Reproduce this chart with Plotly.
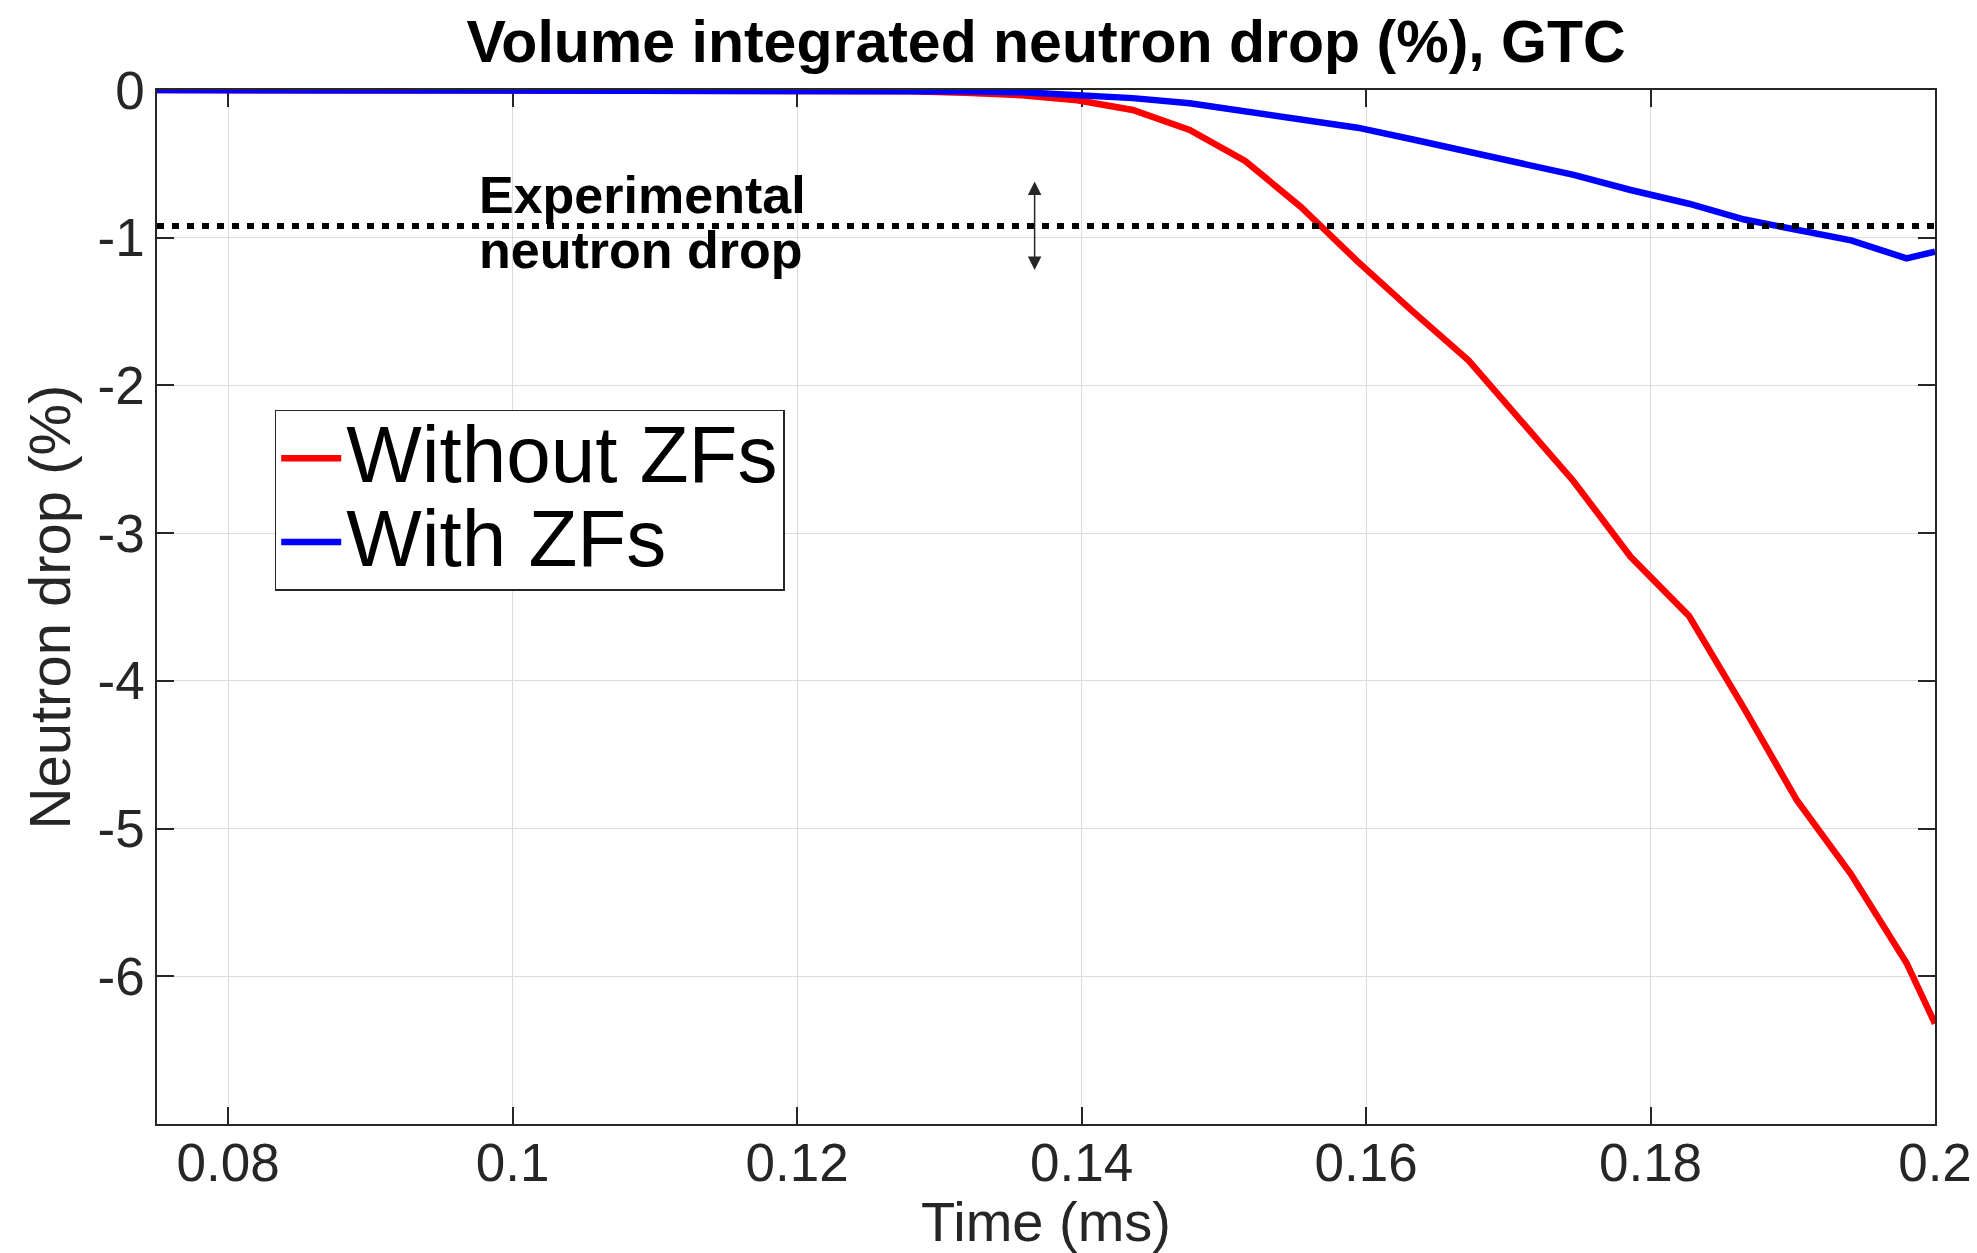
import plotly.graph_objects as go

# ---- data ----
time_ms = [0.075, 0.1, 0.12, 0.124, 0.1279, 0.1318, 0.1358, 0.1397, 0.1436, 0.1476,
           0.1515, 0.1554, 0.1594, 0.1633, 0.1672, 0.1709, 0.1746, 0.1786, 0.1827,
           0.1866, 0.1903, 0.1941, 0.1980, 0.2000]
drop_without_zf = [0, 0, 0, -0.003, -0.008, -0.018, -0.035, -0.07, -0.135, -0.27,
                   -0.48, -0.79, -1.16, -1.50, -1.83, -2.24, -2.65, -3.16, -3.56,
                   -4.19, -4.81, -5.31, -5.91, -6.32]
drop_with_zf = [0, 0, 0, -0.002, -0.004, -0.008, -0.015, -0.03, -0.055, -0.09,
                -0.143, -0.19, -0.255, -0.335, -0.418, -0.495, -0.575, -0.677, -0.77,
                -0.877, -0.95, -1.018, -1.14, -1.095]
series_names = ["Without ZFs", "With ZFs"]
exp_drop = -0.92
exp_err_range = [-0.609, -1.219]
exp_err_time = 0.1367
exp_label_lines = ["Experimental", "neutron drop"]
exp_label_pos = [(0.0975, -0.71), (0.0975, -1.08)]

x_range = [0.075, 0.2]
y_range = [-7, 0]
x_tickvals = [0.08, 0.1, 0.12, 0.14, 0.16, 0.18, 0.2]
x_ticktext = ["0.08", "0.1", "0.12", "0.14", "0.16", "0.18", "0.2"]
y_tickvals = [0, -1, -2, -3, -4, -5, -6]
y_ticktext = ["0", "-1", "-2", "-3", "-4", "-5", "-6"]

FONT = "Liberation Sans, Arial, Helvetica, sans-serif"
AX = "#262626"


def legend_label(name):
    return '<span style="font-size:80px">' + name + "</span>"


fig = go.Figure()
fig.add_trace(go.Scatter(x=time_ms, y=drop_without_zf, mode="lines",
                         name=legend_label(series_names[0]),
                         line=dict(color="#ff0000", width=6.5)))
fig.add_trace(go.Scatter(x=time_ms, y=drop_with_zf, mode="lines",
                         name=legend_label(series_names[1]),
                         line=dict(color="#0000ff", width=6.5)))
fig.add_trace(go.Scatter(x=x_range, y=[exp_drop, exp_drop], mode="lines", showlegend=False,
                         line=dict(color="black", width=6, dash="7px,8px"), hoverinfo="skip"))

axis_common = dict(showline=True, linecolor=AX, linewidth=1.5, mirror="ticks",
                   ticks="inside", ticklen=17, tickwidth=1.5, tickcolor=AX,
                   showgrid=True, gridcolor="#dcdcdc", gridwidth=1, zeroline=False,
                   automargin=False,
                   tickfont=dict(family=FONT, size=53, color=AX), layer="below traces")

fig.update_xaxes(range=x_range, tickvals=x_tickvals, ticktext=x_ticktext,
                 ticklabelstandoff=-8,
                 title=dict(text="Time (ms)", font=dict(family=FONT, size=56, color=AX), standoff=24),
                 **axis_common)
fig.update_yaxes(range=y_range, tickvals=y_tickvals, ticktext=y_ticktext,
                 title=dict(text="Neutron drop (%)", font=dict(family=FONT, size=58, color=AX), standoff=8),
                 **axis_common)

for txt, (tx, ty) in zip(exp_label_lines, exp_label_pos):
    fig.add_annotation(x=tx, y=ty, xref="x", yref="y", text=txt, showarrow=False,
                       xanchor="left", yanchor="middle",
                       font=dict(family=FONT, size=52, color="black", weight="bold"))
fig.add_annotation(x=exp_err_time, y=exp_err_range[1], ax=exp_err_time, ay=exp_err_range[0],
                   xref="x", yref="y", axref="x", ayref="y", text="", showarrow=True,
                   arrowside="end+start", arrowhead=2, arrowsize=1.8, arrowwidth=1.5,
                   arrowcolor=AX)

fig.update_layout(
    width=1977, height=1253, autosize=False,
    margin=dict(l=157, r=42, t=90, b=129, autoexpand=False),
    plot_bgcolor="white", paper_bgcolor="white",
    font=dict(family=FONT, color=AX),
    title=dict(text="Volume integrated neutron drop (%), GTC", x=0.5, xref="paper",
               xanchor="center", y=1 - 41 / 1253, yref="container", yanchor="middle",
               font=dict(family=FONT, size=59, color="black", weight="bold")),
    legend=dict(x=0.0662, y=0.603, xanchor="left", yanchor="middle",
                bgcolor="white", bordercolor=AX, borderwidth=1.5, itemwidth=60,
                font=dict(family=FONT, size=62, color="black"), tracegroupgap=0),
    showlegend=True,
)

fig.write_html("out.html")
